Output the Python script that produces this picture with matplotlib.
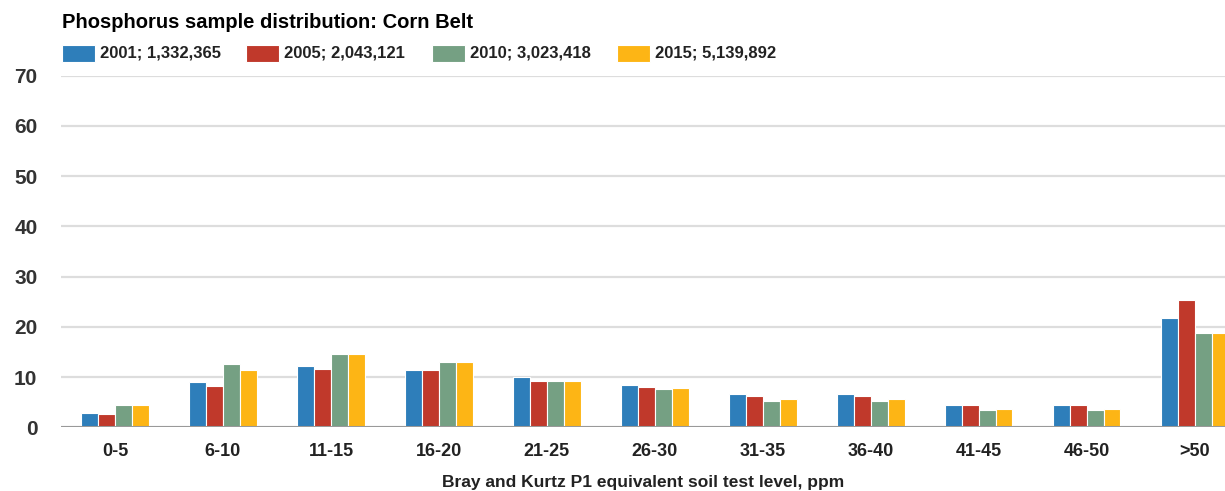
import matplotlib.pyplot as plt
import numpy as np
from matplotlib.patches import Rectangle

plt.rcParams['font.family'] = ['Liberation Sans', 'DejaVu Sans']

# Soil test level bins
categories = ['0-5', '6-10', '11-15', '16-20', '21-25', '26-30',
              '31-35', '36-40', '41-45', '46-50', '>50']

# Percent of samples per bin
y2001 = [2.9, 9.1, 12.3, 11.5, 10.1, 8.5, 6.7, 6.7, 4.4, 4.4, 21.7]
y2005 = [2.6, 8.3, 11.7, 11.5, 9.3, 8.0, 6.2, 6.2, 4.4, 4.4, 25.4]
y2010 = [4.4, 12.7, 14.5, 13.1, 9.3, 7.6, 5.2, 5.2, 3.4, 3.4, 18.7]
y2015 = [4.4, 11.5, 14.5, 13.1, 9.3, 7.8, 5.6, 5.6, 3.6, 3.6, 18.7]

series_labels = ['2001; 1,332,365', '2005; 2,043,121',
                 '2010; 3,023,418', '2015; 5,139,892']
colors = ['#2E7EBA', '#C0392B', '#75A083', '#FDB515']
yticks = [0, 10, 20, 30, 40, 50, 60, 70]

fig = plt.figure(figsize=(12.25, 4.91), dpi=100)
ax = fig.add_axes([61 / 1225, 1 - 427.3 / 491, 1 - 61 / 1225, (427.3 - 75.7) / 491])

x = np.arange(len(categories))
width = 0.156
for i, (vals, c) in enumerate(zip([y2001, y2005, y2010, y2015], colors)):
    ax.bar(x + (i - 1.5) * width, vals, width, color=c,
           edgecolor='white', linewidth=0.8, zorder=3)

ax.set_xlim(-0.5, 10.28)
ax.set_ylim(0, 70)
ax.set_yticks(yticks)
ax.yaxis.grid(True, color='#dddddd', linewidth=1.6, zorder=0)
ax.set_axisbelow(True)
ax.axhline(0, color='#999999', linewidth=2.2, zorder=4)

for s in ax.spines.values():
    s.set_visible(False)

ax.set_xticks(x)
ax.set_xticklabels(categories)
ax.tick_params(axis='x', length=0, pad=11, labelsize=13, colors='#222222')
ax.tick_params(axis='y', length=0, pad=17, labelsize=15, colors='#333333')
for lbl in ax.get_xticklabels() + ax.get_yticklabels():
    lbl.set_fontweight('bold')

ax.set_xlabel('Bray and Kurtz P1 equivalent soil test level, ppm',
              fontsize=12.5, fontweight='bold', color='#222222', labelpad=11)

# Title
fig.text(62 / 1225, 1 - 22 / 491, 'Phosphorus sample distribution: Corn Belt',
         fontsize=14.5, fontweight='bold', color='black', va='center', ha='left')

# Legend row
leg_x = [62, 246, 432, 617]
for lx, lab, c in zip(leg_x, series_labels, colors):
    fig.patches.append(Rectangle((lx / 1225, 1 - 62 / 491), 33 / 1225, 17 / 491,
                                 transform=fig.transFigure, facecolor=c,
                                 edgecolor='white', linewidth=0.8))
    fig.text((lx + 38) / 1225, 1 - 53.5 / 491, lab, fontsize=12,
             fontweight='bold', color='#222222', va='center', ha='left')

fig.savefig('out.png', dpi=100)
